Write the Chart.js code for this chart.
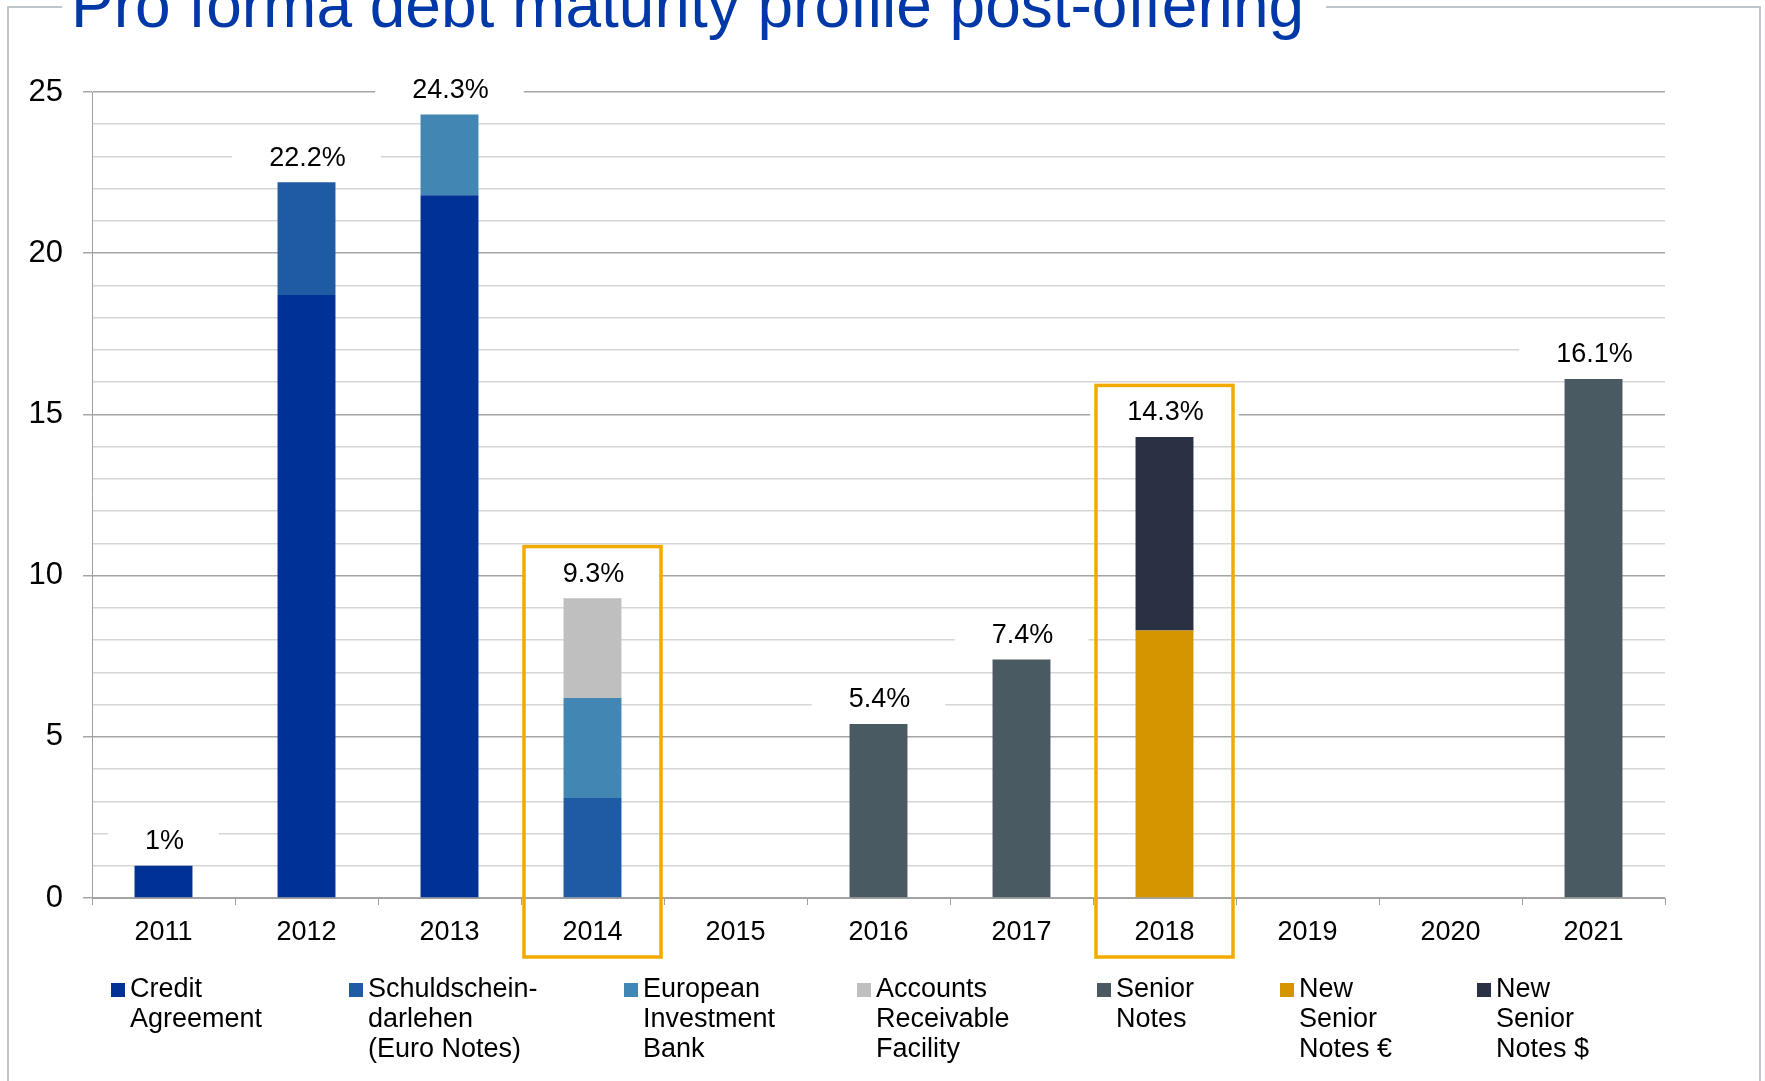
<!DOCTYPE html>
<html>
<head>
<meta charset="utf-8">
<script src="https://cdn.jsdelivr.net/npm/chart.js@4/dist/chart.umd.min.js"></script>
<style>
  html, body { margin: 0; padding: 0; background: #ffffff; }
  #wrap { width: 1765px; height: 1081px; position: relative; }
  canvas { display: block; }
</style>
</head>
<body>
<div id="wrap"><canvas id="c" width="1765" height="1081"></canvas></div>
<script>
// ---- Data ----
const titleText = 'Pro forma debt maturity profile post-offering';
const categories = ['2011','2012','2013','2014','2015','2016','2017','2018','2019','2020','2021'];

const creditAgreement    = [1.0, 18.7, 21.8, null, null, null, null, null, null, null, null];
const schuldschein       = [null, 3.5, null, 3.1, null, null, null, null, null, null, null];
const europeanInvestment = [null, null, 2.5, 3.1, null, null, null, null, null, null, null];
const accountsReceivable = [null, null, null, 3.1, null, null, null, null, null, null, null];
const seniorNotes        = [null, null, null, null, null, 5.4, 7.4, null, null, null, 16.1];
const newSeniorEur       = [null, null, null, null, null, null, null, 8.3, null, null, null];
const newSeniorUsd       = [null, null, null, null, null, null, null, 6.0, null, null, null];

const totalLabels = ['1%','22.2%','24.3%','9.3%','','5.4%','7.4%','14.3%','','','16.1%'];
const highlightedYears = ['2014','2018'];

const seriesNames = [
  ['Credit','Agreement'],
  ['Schuldschein-','darlehen','(Euro Notes)'],
  ['European','Investment','Bank'],
  ['Accounts','Receivable','Facility'],
  ['Senior','Notes'],
  ['New','Senior','Notes \u20AC'],
  ['New','Senior','Notes $']
];
const seriesValues = [creditAgreement, schuldschein, europeanInvestment, accountsReceivable, seniorNotes, newSeniorEur, newSeniorUsd];
const seriesColors = ['#003296','#1F5BA5','#4286B4','#BFBFBF','#4A5A63','#D49500','#2B3144'];

// ---- Style / layout constants ----
const FONT = "'Liberation Sans', Arial, sans-serif";
const legendColumnX = [111, 349, 624, 857, 1097, 1280, 1477];

Chart.defaults.font.family = FONT;
Chart.defaults.color = '#000000';

const frameTitlePlugin = {
  id: 'frameTitle',
  beforeDraw(chart) {
    const ctx = chart.ctx;
    ctx.save();
    ctx.fillStyle = '#ffffff';
    ctx.fillRect(0, 0, chart.width, chart.height);
    ctx.font = '64px ' + FONT;
    const tw = ctx.measureText(titleText).width;
    const tx = 71;
    ctx.strokeStyle = '#BEC5CC';
    ctx.lineWidth = 2;
    ctx.beginPath();
    ctx.moveTo(8, chart.height + 5);
    ctx.lineTo(8, 7);
    ctx.lineTo(tx - 9, 7);
    ctx.moveTo(tx + tw + 22, 7);
    ctx.lineTo(1760, 7);
    ctx.lineTo(1760, chart.height + 5);
    ctx.stroke();
    ctx.fillStyle = '#0038A8';
    ctx.textBaseline = 'alphabetic';
    ctx.textAlign = 'left';
    ctx.fillText(titleText, tx, 27);
    ctx.restore();
  }
};

const totalsPlugin = {
  id: 'totals',
  beforeDatasetsDraw(chart) {
    const ctx = chart.ctx;
    const xs = chart.scales.x, ys = chart.scales.y;
    ctx.save();
    ctx.font = '27px ' + FONT;
    ctx.textAlign = 'center';
    ctx.textBaseline = 'middle';
    categories.forEach((c, i) => {
      const lab = totalLabels[i];
      if (!lab) return;
      let total = 0;
      seriesValues.forEach(s => { total += (s[i] || 0); });
      const x = xs.getPixelForValue(i);
      const y = ys.getPixelForValue(total) - 24;
      const w = ctx.measureText(lab).width + 72;
      ctx.fillStyle = '#ffffff';
      ctx.fillRect(x - w / 2, y - 17, w, 34);
      ctx.fillStyle = '#000000';
      ctx.fillText(lab, x + 1, y);
    });
    ctx.restore();
  }
};

const highlightPlugin = {
  id: 'highlight',
  afterDraw(chart) {
    const ctx = chart.ctx;
    const xs = chart.scales.x, ys = chart.scales.y;
    const catW = (chart.chartArea.right - chart.chartArea.left) / categories.length;
    ctx.save();
    ctx.strokeStyle = '#F2AA00';
    ctx.lineWidth = 3.5;
    highlightedYears.forEach(yr => {
      const i = categories.indexOf(yr);
      let total = 0;
      seriesValues.forEach(s => { total += (s[i] || 0); });
      const x = xs.getPixelForValue(i);
      const top = ys.getPixelForValue(total + 1.6);
      const bottom = chart.chartArea.bottom + 59;
      ctx.strokeRect(x - catW / 2 + 3, top, catW - 6, bottom - top);
    });
    ctx.restore();
  }
};

const legendPlugin = {
  id: 'customLegend',
  afterDraw(chart) {
    const ctx = chart.ctx;
    ctx.save();
    ctx.font = '27px ' + FONT;
    ctx.textAlign = 'left';
    ctx.textBaseline = 'middle';
    seriesNames.forEach((lines, k) => {
      const x0 = legendColumnX[k];
      const y0 = 990;
      ctx.fillStyle = seriesColors[k];
      ctx.fillRect(x0, y0 - 7, 14, 14);
      ctx.fillStyle = '#000000';
      lines.forEach((ln, j) => {
        ctx.fillText(ln, x0 + 19, y0 + j * 30);
      });
    });
    ctx.restore();
  }
};

const datasets = seriesValues.map((vals, k) => ({
  label: seriesNames[k].join(' '),
  data: vals,
  backgroundColor: seriesColors[k],
  borderWidth: 0,
  stack: 'debt',
  categoryPercentage: 1.0,
  barPercentage: 0.405
}));

new Chart(document.getElementById('c'), {
  type: 'bar',
  data: { labels: categories, datasets: datasets },
  options: {
    responsive: false,
    animation: false,
    devicePixelRatio: 1,
    layout: { padding: { top: 92, left: 0, right: 100, bottom: 123 } },
    plugins: {
      legend: { display: false },
      title: { display: false },
      tooltip: { enabled: false }
    },
    scales: {
      x: {
        stacked: true,
        afterFit(scale) { scale.height = 60; },
        grid: {
          display: true,
          drawOnChartArea: false,
          drawTicks: true,
          tickLength: 7,
          color: '#A0A0A0',
          tickColor: '#A0A0A0',
          offset: true
        },
        border: { display: true, color: '#A0A0A0', width: 1 },
        ticks: {
          font: { size: 27, family: FONT },
          color: '#000000',
          padding: 11,
          maxRotation: 0,
          autoSkip: false
        }
      },
      y: {
        stacked: true,
        min: 0,
        max: 25,
        afterFit(scale) { scale.width = 92; },
        grid: {
          drawTicks: true,
          tickLength: 9,
          color: (c) => (c.tick && c.tick.value % 5 === 0) ? '#A6A6A6' : '#D6D6D6',
          tickColor: (c) => (c.tick && c.tick.value % 5 === 0) ? '#A6A6A6' : 'rgba(0,0,0,0)',
          lineWidth: 1.5
        },
        border: { display: true, color: '#A0A0A0', width: 1 },
        ticks: {
          stepSize: 1,
          autoSkip: false,
          padding: 20,
          font: { size: 31, family: FONT },
          color: '#000000',
          callback: (v) => (v % 5 === 0 ? String(v) : '')
        }
      }
    }
  },
  plugins: [frameTitlePlugin, totalsPlugin, highlightPlugin, legendPlugin]
});
</script>
</body>
</html>
